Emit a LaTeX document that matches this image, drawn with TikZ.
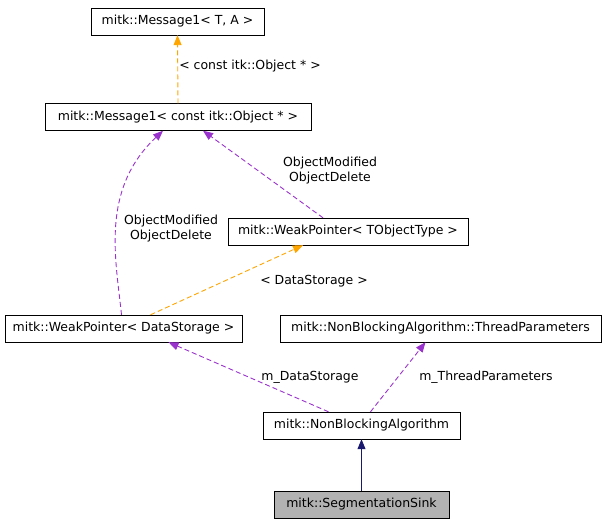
\documentclass[tikz,border=0pt]{standalone}
\usepackage{fontspec}
\setmainfont{DejaVu Sans}
\usetikzlibrary{arrows.meta,calc,positioning}

\definecolor{tmplorange}{HTML}{FFA500}
\definecolor{usepurple}{HTML}{9A32CD}
\definecolor{inhnavy}{HTML}{191970}

\tikzset{
  cls/.style={draw=black, fill=white, inner sep=0pt, minimum height=27pt, font=\fontsize{9.6}{11.5}\selectfont},
  tmpl/.style={dash pattern=on 5pt off 3pt, draw=tmplorange, line width=0.9pt, -{Triangle[length=10pt,width=8pt]}},
  use/.style={dash pattern=on 5pt off 3pt, draw=usepurple, line width=0.9pt, -{Triangle[length=10pt,width=8pt]}},
  inh/.style={draw=inhnavy, line width=0.9pt, -{Triangle[length=10pt,width=8pt]}},
  lbl/.style={font=\fontsize{9.6}{11.5}\selectfont, align=center}
}

\begin{document}
\begin{tikzpicture}[x=1pt,y=-1pt]
\useasboundingbox (0,0) rectangle (605,525);

\node [cls, minimum width=173pt] (msgta) at (177.5,21.5) {\scalebox{1.3}{mitk::Message1< T, A >}};
\node [cls, minimum width=266pt] (msgobj) at (178,117) {\scalebox{1.3}{mitk::Message1< const itk::Object * >}};
\node [cls, minimum width=240pt] (wpto) at (348,231.5) {\scalebox{1.3}{mitk::WeakPointer< TObjectType >}};
\node [cls, minimum width=237pt] (wpds) at (123.5,328.5) {\scalebox{1.3}{mitk::WeakPointer< DataStorage >}};
\node [cls, minimum width=321pt] (thrp) at (440.5,328.5) {\scalebox{1.3}{mitk::NonBlockingAlgorithm::ThreadParameters}};
\node [cls, minimum width=197pt] (nba) at (361.5,425.5) {\scalebox{1.3}{mitk::NonBlockingAlgorithm}};
\node [cls, minimum width=175pt, fill=gray!60] (sink) at (361.5,504.5) {\scalebox{1.3}{mitk::SegmentationSink}};

% template instances
\draw [tmpl] (msgobj.north) -- (msgta.south);
\node [lbl, scale=1.3] (l1) at (250,66) {< const itk::Object * >};
\draw [tmpl] ($(wpds.north)+(27,0)$) -- ($(wpto.south)+(-45,0)$);
\node [lbl, scale=1.3] (l2) at (314,281) {< DataStorage >};

% usage
\draw [use] ($(wpto.north)+(-25,0)$) -- ($(msgobj.south)+(25,0)$);
\node [lbl, scale=1.3] (l3) at (330,171) {ObjectModified\\ObjectDelete};
\draw [use] ($(wpds.north)+(-2,0)$) .. controls (116,260) and (100,190) .. ($(msgobj.south)+(-15,0)$);
\node [lbl, scale=1.3] (l4) at (171,229) {ObjectModified\\ObjectDelete};
\draw [use] ($(nba.north)+(-33,0)$) -- ($(wpds.south)+(45,0)$);
\node [lbl, scale=1.3] (l5) at (310,377) {m\_DataStorage};
\draw [use] ($(nba.north)+(9,0)$) -- ($(thrp.south)+(-15,0)$);
\node [lbl, scale=1.3] (l6) at (486,377) {m\_ThreadParameters};

% inheritance
\draw [inh] (sink.north) -- (nba.south);
\end{tikzpicture}
\end{document}
